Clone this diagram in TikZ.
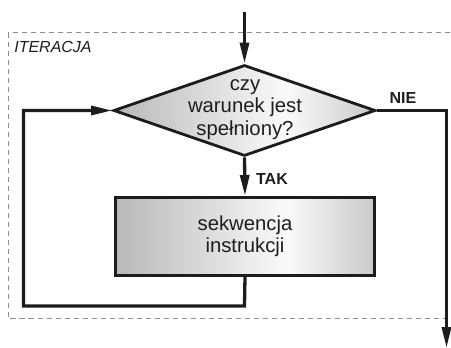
\documentclass[tikz,border=0pt]{standalone}
\usepackage{fontspec}
\setmainfont{Liberation Sans}
\usetikzlibrary{shapes.geometric,arrows.meta}

\definecolor{ink}{HTML}{1E1B1B}
\definecolor{txt}{HTML}{1E1E1E}
\definecolor{frame}{HTML}{8C8C8C}
\definecolor{shL}{HTML}{B8B8B8}
\definecolor{shM}{HTML}{FAFAFA}
\definecolor{shR}{HTML}{CACACA}

% grey shading, lightest a little to the right of the middle
\pgfdeclarehorizontalshading{flowshade}{100bp}{%
  color(0bp)=(shL); color(25bp)=(shL); color(58bp)=(shM);
  color(75bp)=(shR); color(100bp)=(shR)}

\tikzset{
  flow/.style={draw=ink, line width=3.3pt},
  tip/.style={-{Triangle[length=21pt,width=9pt]}},
  decision/.style={diamond, draw=ink, line width=2.8pt, inner sep=0pt,
    shade, shading=flowshade, minimum width=262pt, minimum height=91pt},
  process/.style={rectangle, draw=ink, line width=3pt, inner sep=0pt,
    shade, shading=flowshade, minimum width=259pt, minimum height=78pt,
    align=center, text=txt, font=\fontsize{20.3}{22.5}\selectfont},
  bodytext/.style={align=center, text=txt, font=\fontsize{20.3}{22.5}\selectfont},
  branch/.style={text=txt, font=\bfseries\fontsize{16}{18}\selectfont},
  loopframe/.style={draw=frame, line width=1pt, dash pattern=on 5.5pt off 3.5pt},
}

\begin{document}
\begin{tikzpicture}[x=1pt, y=-1pt]
  \useasboundingbox (0,0) rectangle (451,348);

  % iteration frame
  \draw[loopframe] (8,32.5) rectangle (470,318);
  \node[text=txt, font=\itshape\fontsize{16}{18}\selectfont] (title) at (53,46.5) {ITERACJA};

  % blocks
  \node[decision] (dec) at (244.5,110.5) {};
  \node[bodytext] (question) at (245,109.5) {czy\\warunek jest\\spełniony?};
  \node[process] (seq) at (245,236.5) {sekwencja\\instrukcji};

  % branch labels
  \node[branch] (nie) at (403,97.5) {NIE};
  \node[branch] (tak) at (272,178.5) {TAK};

  % connector points
  \coordinate (entry) at (244.5,12);
  \coordinate (nieturn) at (446.5,110.5);
  \coordinate (exit) at (446.5,348);
  \coordinate (loopA) at (244.5,306);
  \coordinate (loopB) at (23.5,306);
  \coordinate (loopC) at (23.5,110.5);

  % connectors
  \draw[flow, tip] (entry) -- (dec.north);
  \draw[flow, tip] (dec.south) -- (seq.north);
  \draw[flow, tip] (dec.east) -- (nieturn) -- (exit);
  \draw[flow, tip] (seq.south) -- (loopA) -- (loopB) -- (loopC) -- (dec.west);
\end{tikzpicture}
\end{document}
